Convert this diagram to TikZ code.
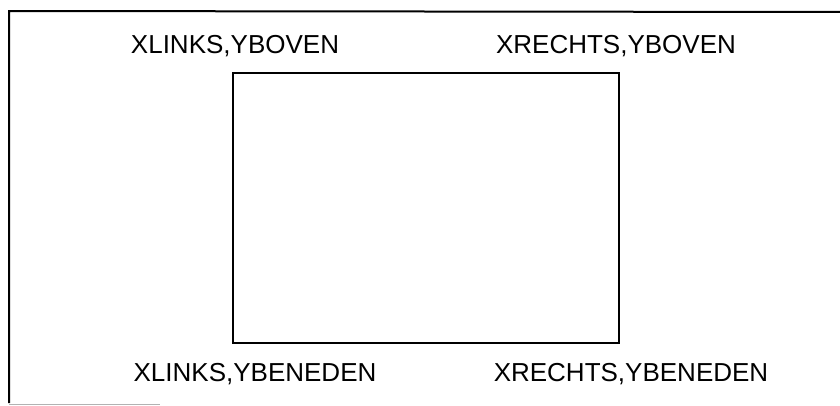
\documentclass[tikz,border=0pt]{standalone}
\usepackage{fontspec}
\setmainfont{Liberation Sans}
\begin{document}
\begin{tikzpicture}[x=1pt, y=-1pt,
    hoek/.style={anchor=base, inner sep=0pt, font=\fontsize{26}{30}\selectfont}]
    \useasboundingbox (0,0) rectangle (840,405);
    \clip (0,0) rectangle (840,405);

    % Frame (cut off at the right and bottom)
    \draw[line width=2pt] (9,403) -- (9,11) -- (845,12);
    \draw[line width=1pt, gray!60] (9,404) -- (160,404);

    % Window
    \draw[line width=1.6pt] (233,73) rectangle (619,343);

    % Corner labels
    \node[hoek] (linksboven) at (235,53) {XLINKS,YBOVEN};
    \node[hoek] (rechtsboven) at (616,53) {XRECHTS,YBOVEN};
    \node[hoek] (linksbeneden) at (255,381) {XLINKS,YBENEDEN};
    \node[hoek] (rechtsbeneden) at (631,381) {XRECHTS,YBENEDEN};
\end{tikzpicture}
\end{document}
